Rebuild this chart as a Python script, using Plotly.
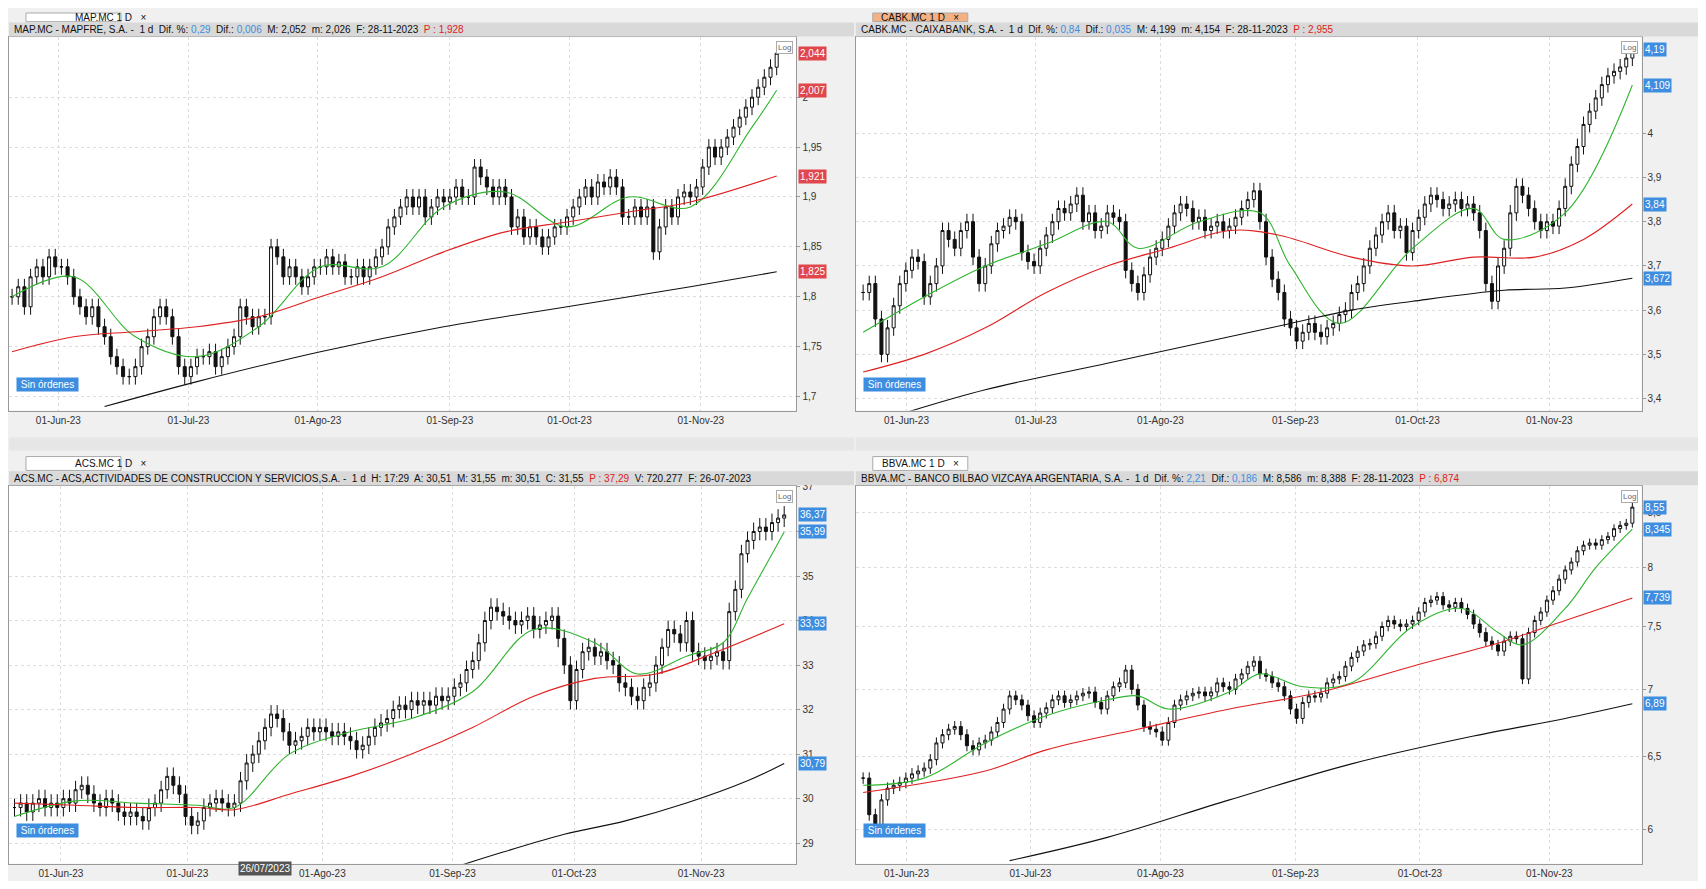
"""Four-panel daily candlestick view (MAP, CABK, ACS, BBVA) with moving averages."""
import math

import plotly.graph_objects as go

# ---- data -----------------------------------------------------------------
month_labels = ["01-Jun-23", "01-Jul-23", "01-Ago-23", "01-Sep-23", "01-Oct-23", "01-Nov-23"]

map_close = [
    1.80, 1.81, 1.79, 1.82, 1.83, 1.82, 1.84, 1.83, 1.83, 1.82,
    1.80, 1.79, 1.78, 1.79, 1.77, 1.76, 1.74, 1.73, 1.72, 1.72,
    1.73, 1.75, 1.76, 1.78, 1.79, 1.78, 1.76, 1.73, 1.72, 1.73,
    1.74, 1.74, 1.745, 1.73, 1.74, 1.75, 1.76, 1.79, 1.78, 1.77,
    1.78, 1.78, 1.85, 1.84, 1.82, 1.83, 1.82, 1.81, 1.82, 1.83,
    1.83, 1.84, 1.83, 1.835, 1.82, 1.82, 1.83, 1.82, 1.83, 1.84,
    1.85, 1.87, 1.88, 1.89, 1.90, 1.89, 1.90, 1.88, 1.89, 1.90,
    1.895, 1.90, 1.91, 1.90, 1.90, 1.93, 1.92, 1.91, 1.90, 1.91,
    1.90, 1.87, 1.88, 1.86, 1.87, 1.86, 1.85, 1.86, 1.87, 1.87,
    1.88, 1.89, 1.90, 1.91, 1.90, 1.915, 1.91, 1.92, 1.91, 1.88,
    1.88, 1.89, 1.88, 1.89, 1.845, 1.87, 1.89, 1.88, 1.90, 1.905,
    1.90, 1.91, 1.93, 1.95, 1.94, 1.95, 1.96, 1.97, 1.98, 1.99,
    2.00, 2.01, 2.02, 2.03, 2.044,
]
map_ma_fast_x = [0, 10, 20, 30, 40, 50, 60, 70, 80, 90, 100, 110, 120, 124]
map_ma_fast = [1.80, 1.82, 1.76, 1.74, 1.77, 1.83, 1.83, 1.89, 1.905, 1.87, 1.90, 1.89, 1.97, 2.007]
map_ma_mid_x = [0, 10, 20, 30, 40, 50, 60, 70, 80, 90, 100, 110, 124]
map_ma_mid = [1.745, 1.76, 1.765, 1.77, 1.78, 1.80, 1.82, 1.845, 1.865, 1.875, 1.885, 1.895, 1.921]
map_ma_slow_x = [15, 30, 50, 70, 90, 110, 124]
map_ma_slow = [1.69, 1.715, 1.745, 1.77, 1.79, 1.81, 1.825]
map_ticks = [7.5, 28.6, 49.6, 71.0, 90.4, 111.7]

cabk_close = [
    3.64, 3.66, 3.58, 3.50, 3.56, 3.61, 3.66, 3.69, 3.72, 3.71,
    3.63, 3.66, 3.70, 3.78, 3.76, 3.74, 3.78, 3.80, 3.72, 3.66,
    3.70, 3.75, 3.78, 3.79, 3.81, 3.80, 3.73, 3.71, 3.70, 3.74,
    3.77, 3.80, 3.83, 3.82, 3.84, 3.86, 3.80, 3.82, 3.78, 3.79,
    3.82, 3.81, 3.80, 3.69, 3.66, 3.64, 3.68, 3.72, 3.74, 3.76,
    3.79, 3.82, 3.84, 3.83, 3.80, 3.81, 3.78, 3.79, 3.80, 3.78,
    3.79, 3.81, 3.83, 3.85, 3.87, 3.80, 3.72, 3.67, 3.64, 3.58,
    3.56, 3.53, 3.55, 3.57, 3.55, 3.54, 3.56, 3.57, 3.59, 3.60,
    3.64, 3.66, 3.70, 3.74, 3.77, 3.80, 3.82, 3.78, 3.79, 3.73,
    3.78, 3.81, 3.84, 3.86, 3.85, 3.83, 3.84, 3.85, 3.83, 3.84,
    3.82, 3.78, 3.66, 3.62, 3.70, 3.74, 3.82, 3.88, 3.86, 3.83,
    3.80, 3.78, 3.80, 3.79, 3.83, 3.88, 3.93, 3.97, 4.02, 4.05,
    4.08, 4.11, 4.13, 4.14, 4.15, 4.17, 4.19,
]
cabk_ma_fast_x = [0, 10, 20, 30, 40, 45, 55, 65, 70, 78, 90, 100, 105, 115, 126]
cabk_ma_fast = [3.55, 3.63, 3.70, 3.75, 3.80, 3.74, 3.80, 3.82, 3.70, 3.57, 3.74, 3.83, 3.76, 3.82, 4.109]
cabk_ma_mid_x = [0, 10, 20, 30, 40, 50, 60, 68, 80, 90, 100, 110, 118, 126]
cabk_ma_mid = [3.46, 3.50, 3.56, 3.64, 3.70, 3.74, 3.78, 3.77, 3.72, 3.70, 3.72, 3.72, 3.76, 3.84]
cabk_ma_slow_x = [5, 20, 40, 60, 70, 80, 90, 105, 115, 126]
cabk_ma_slow = [3.36, 3.42, 3.48, 3.54, 3.57, 3.60, 3.62, 3.645, 3.65, 3.672]
cabk_ticks = [7.1, 28.3, 48.7, 70.8, 90.8, 112.4]

acs_close = [
    29.8, 29.9, 29.7, 29.9, 30.0, 29.8, 29.9, 29.8, 30.0, 29.9,
    30.2, 30.3, 30.1, 29.9, 29.8, 30.0, 29.9, 29.7, 29.6, 29.7,
    29.6, 29.5, 29.8, 29.9, 30.2, 30.5, 30.3, 30.1, 29.6, 29.4,
    29.5, 29.8, 29.9, 30.0, 29.9, 29.8, 29.9, 30.4, 30.8, 31.0,
    31.3, 31.6, 31.9, 31.8, 31.5, 31.2, 31.3, 31.4, 31.6, 31.5,
    31.6, 31.5, 31.4, 31.5, 31.4, 31.3, 31.1, 31.2, 31.4, 31.6,
    31.7, 31.8, 32.0, 32.1, 32.0, 32.2, 32.1, 32.2, 32.1, 32.3,
    32.2, 32.3, 32.5, 32.6, 32.9, 33.1, 33.5, 34.0, 34.3, 34.2,
    34.1, 34.0, 33.9, 34.0, 34.1, 33.8, 33.9, 34.0, 34.1, 33.6,
    33.0, 32.2, 32.9, 33.3, 33.4, 33.2, 33.3, 33.1, 33.0, 32.6,
    32.5, 32.3, 32.2, 32.5, 32.6, 33.0, 33.4, 33.8, 33.7, 33.5,
    34.0, 33.3, 33.2, 33.1, 33.2, 33.3, 33.1, 34.2, 34.7, 35.5,
    35.8, 36.0, 36.1, 36.0, 36.2, 36.3, 36.37,
]
acs_ma_fast_x = [0, 10, 20, 30, 36, 45, 55, 65, 75, 85, 95, 102, 110, 116, 120, 126]
acs_ma_fast = [29.6, 29.95, 29.9, 29.85, 29.8, 31.0, 31.5, 31.8, 32.4, 33.8, 33.5, 32.8, 33.2, 33.5, 34.5, 35.99]
acs_ma_mid_x = [0, 10, 20, 30, 36, 45, 55, 65, 75, 85, 95, 105, 115, 126]
acs_ma_mid = [29.9, 29.85, 29.8, 29.8, 29.75, 30.1, 30.5, 31.0, 31.6, 32.3, 32.7, 32.8, 33.3, 33.93]
acs_ma_slow_x = [73, 80, 90, 100, 110, 120, 126]
acs_ma_slow = [28.5, 28.8, 29.2, 29.5, 29.9, 30.4, 30.79]
acs_ticks = [7.6, 28.3, 50.4, 71.7, 91.6, 112.4]

bbva_close = [
    6.35, 6.10, 6.00, 6.20, 6.28, 6.30, 6.32, 6.35, 6.38, 6.40,
    6.42, 6.48, 6.60, 6.66, 6.70, 6.72, 6.66, 6.58, 6.55, 6.60,
    6.62, 6.68, 6.75, 6.85, 6.95, 6.92, 6.88, 6.80, 6.75, 6.82,
    6.86, 6.92, 6.95, 6.90, 6.92, 6.95, 6.97, 6.98, 6.90, 6.85,
    6.95, 7.02, 7.05, 7.15, 7.00, 6.88, 6.72, 6.70, 6.68, 6.62,
    6.75, 6.88, 6.92, 6.95, 6.97, 6.98, 6.95, 6.98, 7.05, 7.02,
    7.00, 7.08, 7.12, 7.18, 7.22, 7.12, 7.10, 7.05, 7.02, 6.95,
    6.85, 6.78, 6.90, 6.95, 6.94, 6.97, 7.05, 7.08, 7.10, 7.18,
    7.25, 7.30, 7.35, 7.36, 7.42, 7.50, 7.55, 7.52, 7.50, 7.52,
    7.55, 7.62, 7.70, 7.72, 7.75, 7.68, 7.66, 7.70, 7.65, 7.60,
    7.52, 7.45, 7.38, 7.35, 7.30, 7.38, 7.42, 7.40, 7.08, 7.45,
    7.55, 7.62, 7.72, 7.80, 7.90, 7.98, 8.05, 8.15, 8.20, 8.22,
    8.20, 8.25, 8.28, 8.35, 8.38, 8.40, 8.55,
]
bbva_ma_fast_x = [0, 10, 20, 30, 40, 45, 50, 60, 65, 72, 80, 90, 98, 104, 108, 115, 120, 126]
bbva_ma_fast = [6.30, 6.35, 6.60, 6.80, 6.92, 6.95, 6.85, 6.98, 7.12, 7.02, 7.05, 7.50, 7.65, 7.45, 7.35, 7.65, 8.0, 8.345]
bbva_ma_mid_x = [0, 20, 30, 45, 60, 75, 90, 105, 115, 126]
bbva_ma_mid = [6.25, 6.40, 6.55, 6.70, 6.85, 6.98, 7.18, 7.38, 7.55, 7.739]
bbva_ma_slow_x = [24, 40, 60, 80, 100, 115, 126]
bbva_ma_slow = [5.80, 5.95, 6.20, 6.45, 6.65, 6.78, 6.89]
bbva_ticks = [7.1, 27.4, 48.7, 70.8, 91.2, 112.4]

panels = [
    dict(tab="MAP.MC 1 D", tab_active=False,
         header=("MAP.MC - MAPFRE, S.A. -  1 d  Dif. %: <span style='color:#3d8ee0'>0,29</span>  "
                 "Dif.: <span style='color:#3d8ee0'>0,006</span>  M: 2,052  m: 2,026  F: 28-11-2023  "
                 "<span style='color:#e02020'>P : 1,928</span>"),
         close=map_close, wick=0.008,
         ma=[(map_ma_fast_x, map_ma_fast), (map_ma_mid_x, map_ma_mid), (map_ma_slow_x, map_ma_slow)],
         labels=[2.044, 2.007, 1.921, 1.825], label_color="#e0464b",
         ticks=map_ticks, xr=[-0.5, 127.2], yr=[1.686, 2.06], log=False,
         yt=[1.7, 1.75, 1.8, 1.85, 1.9, 1.95, 2.0],
         dom=([0.0, 0.464], [0.542, 0.972])),
    dict(tab="CABK.MC 1 D", tab_active=True,
         header=("CABK.MC - CAIXABANK, S.A. -  1 d  Dif. %: <span style='color:#3d8ee0'>0,84</span>  "
                 "Dif.: <span style='color:#3d8ee0'>0,035</span>  M: 4,199  m: 4,154  F: 28-11-2023  "
                 "<span style='color:#e02020'>P : 2,955</span>"),
         close=cabk_close, wick=0.018,
         ma=[(cabk_ma_fast_x, cabk_ma_fast), (cabk_ma_mid_x, cabk_ma_mid), (cabk_ma_slow_x, cabk_ma_slow)],
         labels=[4.19, 4.109, 3.84, 3.672], label_color="#3d8ee0",
         ticks=cabk_ticks, xr=[-1.2, 127.5], yr=[3.373, 4.217], log=False,
         yt=[3.4, 3.5, 3.6, 3.7, 3.8, 3.9, 4.0],
         dom=([0.499, 0.962], [0.542, 0.972])),
    dict(tab="ACS.MC 1 D", tab_active=False,
         header=("ACS.MC - ACS,ACTIVIDADES DE CONSTRUCCION Y SERVICIOS,S.A. -  1 d  H: 17:29  A: 30,51  "
                 "M: 31,55  m: 30,51  C: 31,55  <span style='color:#e02020'>P : 37,29</span>  V: 720.277  F: 26-07-2023"),
         close=acs_close, wick=0.2,
         ma=[(acs_ma_fast_x, acs_ma_fast), (acs_ma_mid_x, acs_ma_mid), (acs_ma_slow_x, acs_ma_slow)],
         labels=[36.37, 35.99, 33.93, 30.79], label_color="#3d8ee0",
         ticks=acs_ticks, xr=[-0.9, 128.0], yr=[28.54, 37.02], log=False,
         yt=[29, 30, 31, 32, 33, 34, 35, 36, 37],
         dom=([0.0, 0.464], [0.02, 0.455])),
    dict(tab="BBVA.MC 1 D", tab_active=False,
         header=("BBVA.MC - BANCO BILBAO VIZCAYA ARGENTARIA, S.A. -  1 d  Dif. %: <span style='color:#3d8ee0'>2,21</span>  "
                 "Dif.: <span style='color:#3d8ee0'>0,186</span>  M: 8,586  m: 8,388  F: 28-11-2023  "
                 "<span style='color:#e02020'>P : 6,874</span>"),
         close=bbva_close, wick=0.04,
         ma=[(bbva_ma_fast_x, bbva_ma_fast), (bbva_ma_mid_x, bbva_ma_mid), (bbva_ma_slow_x, bbva_ma_slow)],
         labels=[8.55, 8.345, 7.739, 6.89], label_color="#3d8ee0",
         ticks=bbva_ticks, xr=[-1.2, 127.5], yr=[0.762, 0.942], log=True,
         yt=[6, 6.5, 7, 7.5, 8, 8.5],
         dom=([0.499, 0.962], [0.02, 0.455])),
]

ma_colors = ["#2fb52f", "#e02020", "#111111"]
FONT = "Liberation Sans, Arial, sans-serif"


def fmt(v):
    return f"{v:g}".replace(".", ",")


fig = go.Figure()
shapes, annotations = [], []

for i, p in enumerate(panels, start=1):
    xa, ya = f"x{i}", f"y{i}"
    close = p["close"]
    opens = [close[0]] + close[:-1]
    highs = [max(o, c) + p["wick"] for o, c in zip(opens, close)]
    lows = [min(o, c) - p["wick"] for o, c in zip(opens, close)]
    idx = list(range(len(close)))
    fig.add_trace(go.Candlestick(
        x=idx, open=opens, high=highs, low=lows, close=close, xaxis=xa, yaxis=ya,
        increasing=dict(line=dict(color="#111111", width=1), fillcolor="white"),
        decreasing=dict(line=dict(color="#111111", width=1), fillcolor="#111111"),
        whiskerwidth=0, showlegend=False, hoverinfo="skip"))
    for (mx, my), col in zip(p["ma"], ma_colors):
        fig.add_trace(go.Scatter(x=mx, y=my, mode="lines", xaxis=xa, yaxis=ya,
                                 line=dict(color=col, width=1.1, shape="spline"),
                                 showlegend=False, hoverinfo="skip"))

    (x0, x1), (y0, y1) = p["dom"]
    sfx = "" if i == 1 else str(i)
    fig.layout[f"xaxis{sfx}"] = dict(
        domain=[x0, x1], anchor=ya, range=p["xr"], tickvals=p["ticks"], ticktext=month_labels,
        showgrid=True, gridcolor="#dddddd", griddash="dot", zeroline=False,
        rangeslider=dict(visible=False), showline=True, linecolor="#999999", mirror=True,
        tickfont=dict(size=10, color="#333333"), ticks="", fixedrange=True)
    fig.layout[f"yaxis{sfx}"] = dict(
        domain=[y0, y1], anchor=xa, side="right", range=p["yr"],
        type="log" if p["log"] else "linear",
        tickvals=p["yt"], ticktext=[fmt(v) for v in p["yt"]],
        showgrid=True, gridcolor="#dddddd", griddash="dot", zeroline=False,
        showline=True, linecolor="#999999", mirror=True,
        tickfont=dict(size=10, color="#333333"), ticks="outside", ticklen=3, tickcolor="#999999")

    # panel frame: tab strip, header bar, bottom scrollbar
    shapes.append(dict(type="rect", xref="paper", yref="paper", x0=x0, x1=x1 + 0.034,
                       y0=y1 + 0.001, y1=y1 + 0.017, fillcolor="#d9d9d9", line=dict(width=0)))
    annotations.append(dict(xref="paper", yref="paper", x=x0 + 0.002, y=y1 + 0.009, text=p["header"],
                            showarrow=False, xanchor="left", yanchor="middle",
                            font=dict(size=10, color="#111111", family=FONT)))
    tab_fill = "#f4b183" if p["tab_active"] else "white"
    ty1 = min(y1 + 0.034, 1.0)
    shapes.append(dict(type="rect", xref="paper", yref="paper", x0=x0 + 0.01, x1=x0 + 0.066,
                       y0=y1 + 0.018, y1=ty1, fillcolor=tab_fill, line=dict(color="#aaaaaa", width=1)))
    annotations.append(dict(xref="paper", yref="paper", x=x0 + 0.038, y=(y1 + 0.018 + ty1) / 2,
                            text=p["tab"] + "   ×", showarrow=False, yanchor="middle",
                            font=dict(size=10, color="#111111", family=FONT)))
    annotations.append(dict(xref="paper", yref="paper", x=x0 + 0.004, y=y0 + 0.03, text=" Sin órdenes ",
                            showarrow=False, xanchor="left", bgcolor="#3d8ee0",
                            font=dict(size=10, color="white", family=FONT)))
    annotations.append(dict(xref="paper", yref="paper", x=x1 - 0.002, y=y1 - 0.004, text="Log",
                            showarrow=False, xanchor="right", yanchor="top", bordercolor="#aaaaaa",
                            borderwidth=1, bgcolor="white", font=dict(size=8, color="#666666")))
    if i <= 2:
        shapes.append(dict(type="rect", xref="paper", yref="paper", x0=x0, x1=x1 + 0.034,
                           y0=y0 - 0.046, y1=y0 - 0.031, fillcolor="#e6e6e6", line=dict(width=0)))
    for v in p["labels"]:
        annotations.append(dict(xref="paper", yref=ya, x=x1 + 0.001, y=math.log10(v) if p["log"] else v,
                                text=fmt(v), showarrow=False, xanchor="left", bgcolor=p["label_color"],
                                font=dict(size=10, color="white", family=FONT)))

# cursor date marker on the ACS panel
annotations.append(dict(xref="x3", yref="paper", x=41, y=0.006, text="26/07/2023", showarrow=False,
                        bgcolor="#555555", font=dict(size=10, color="white", family=FONT)))

fig.update_layout(
    width=1698, height=873, margin=dict(l=0, r=0, t=0, b=0),
    paper_bgcolor="#f0f0f0", plot_bgcolor="white",
    shapes=shapes, annotations=annotations,
    font=dict(family=FONT, size=10),
)

fig.write_html("out.html")
